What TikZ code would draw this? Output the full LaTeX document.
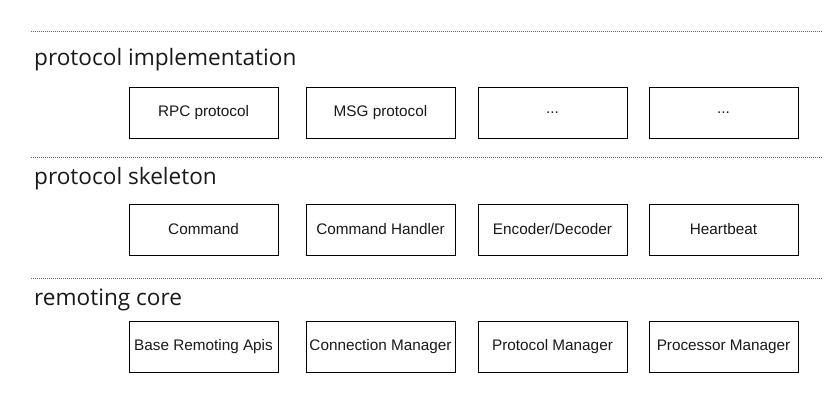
\documentclass[tikz,border=0pt]{standalone}
\usepackage{fontspec}
\setmainfont{Liberation Sans}
\newfontfamily\titlefont{Open Sans}
\begin{document}
\begin{tikzpicture}[x=1pt,y=-1pt,
  sep/.style={draw=black!60, line width=0.8pt, dash pattern=on 0.9pt off 1.1pt},
  layertitle/.style={anchor=base west, inner sep=0pt, text=black!90, font=\titlefont\fontsize{22.6}{26}\selectfont},
  comp/.style={draw=black, line width=0.9pt, minimum width=149pt, minimum height=51pt, inner sep=0pt, text=black!90, font=\fontsize{15.3}{18}\selectfont}]
\useasboundingbox[fill=white] (0,0) rectangle (836,402);

% separators
\coordinate (s1l) at (31,31);  \coordinate (s1r) at (822,31);
\coordinate (s2l) at (31,157); \coordinate (s2r) at (822,157);
\coordinate (s3l) at (31,278); \coordinate (s3r) at (822,278);
\draw[sep] (s1l) -- (s1r);
\draw[sep] (s2l) -- (s2r);
\draw[sep] (s3l) -- (s3r);

% titles
\node[layertitle] (t1) at (34,65) {protocol implementation};
\node[layertitle] (t2) at (34,184) {protocol skeleton};
\node[layertitle] (t3) at (34,305) {remoting core};

% row 1
\node[comp] (a1) at (203.5,112.5) {RPC protocol};
\node[comp] (a2) at (380.5,112.5) {MSG protocol};
\node[comp] (a3) at (552.5,112.5) {...};
\node[comp] (a4) at (723.5,112.5) {...};

% row 2
\node[comp] (b1) at (203.5,229.5) {Command};
\node[comp] (b2) at (380.5,229.5) {Command Handler};
\node[comp] (b3) at (552.5,229.5) {Encoder/Decoder};
\node[comp] (b4) at (723.5,229.5) {Heartbeat};

% row 3
\node[comp] (c1) at (203.5,346.5) {Base Remoting Apis};
\node[comp] (c2) at (380.5,346.5) {Connection Manager};
\node[comp] (c3) at (552.5,346.5) {Protocol Manager};
\node[comp] (c4) at (723.5,346.5) {Processor Manager};
\end{tikzpicture}
\end{document}
